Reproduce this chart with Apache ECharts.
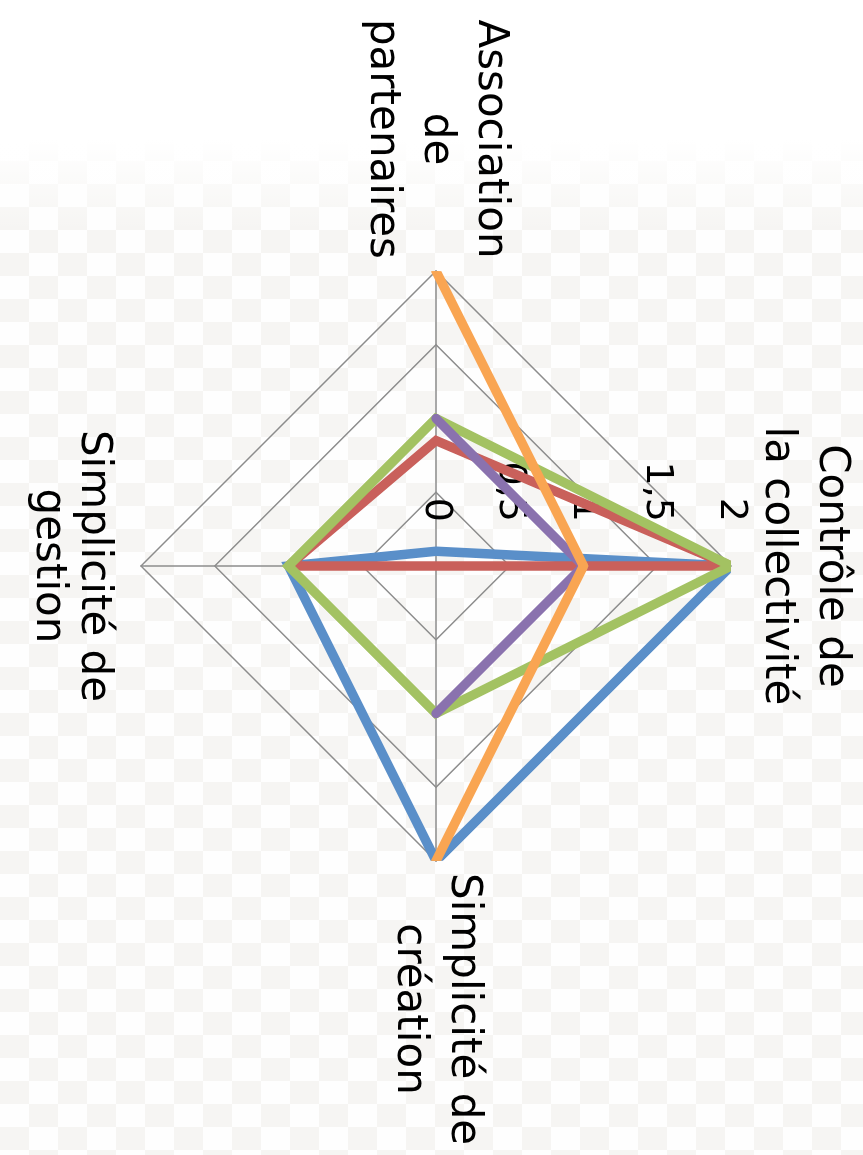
<!DOCTYPE html>
<html>
<head>
<meta charset="utf-8">
<script src="https://cdn.jsdelivr.net/npm/echarts@6/dist/echarts.min.js"></script>
<style>
  html, body {
    margin: 0;
    padding: 0;
    width: 863px;
    height: 1155px;
    overflow: hidden;
  }
  body {
    background:
      linear-gradient(to bottom, #fff 0, #fff 140px, rgba(255, 255, 255, 0) 230px),
      repeating-conic-gradient(#f6f5f3 0 25%, #fefefe 0 50%) 0 0 / 58px 46px;
  }
  /* the chart is drawn flat, then turned a quarter turn clockwise */
  #chart {
    position: absolute;
    left: 0;
    top: 0;
    width: 1155px;
    height: 863px;
    transform-origin: 0 0;
    transform: translateX(863px) rotate(90deg);
  }
</style>
</head>
<body>
<div id="chart"></div>
<script>
  // axes, counter-clockwise from the top of the unrotated chart
  const categories = [
    'Contrôle de\nla collectivité',
    'Association\nde\npartenaires',
    'Simplicité de\ngestion',
    'Simplicité de\ncréation'
  ];
  const axisMax = 2;
  const splitCount = 4;

  const seriesNames = ['Série1', 'Série2', 'Série3', 'Série4', 'Série5'];
  const serie1 = [2, 0.1, 1, 2];
  const serie2 = [2, 0.85, 1, 0];
  const serie3 = [2, 1, 1, 1];
  const serie4 = [1, 1, null, 1];
  const serie5 = [1, 2, null, 2];
  const colors = ['#5a8fc9', '#c9605b', '#a3c262', '#8a72ae', '#f9a552'];

  const chart = echarts.init(document.getElementById('chart'), null, {renderer: 'canvas'});

  const center = [566, 427];
  const radius = 295;
  const fontFamily = 'DejaVu Sans';

  // radar keeps the polygon closed even with blanks, so the lines go on a polar grid over it
  function toPolar(values) {
    const step = 360 / categories.length;
    const points = values.map(function (v, i) {
      return [v == null ? '-' : v, i * step];
    });
    points.push([points[0][0], 360]);
    return points;
  }

  const labelStyle = {
    show: true,
    color: '#000',
    fontSize: 38,
    fontFamily: fontFamily,
    margin: 44,
    formatter: function (v) {
      return String(v).replace('.', ',');
    }
  };

  const allSeries = [serie1, serie2, serie3, serie4, serie5].map(function (values, i) {
    return {
      name: seriesNames[i],
      type: 'line',
      coordinateSystem: 'polar',
      data: toPolar(values),
      symbol: 'none',
      connectNulls: false,
      silent: true,
      lineStyle: {
        color: colors[i],
        width: 9.5,
        cap: 'round',
        join: 'miter',
        miterLimit: 2.5
      },
      z: 3 + i
    };
  });

  const nameStyle = {
    align: 'center',
    color: '#000',
    fontSize: 42,
    fontFamily: fontFamily,
    lineHeight: 54
  };

  chart.setOption({
    animation: false,
    backgroundColor: 'transparent',
    radar: {
      center: center,
      radius: radius,
      startAngle: 90,
      shape: 'polygon',
      splitNumber: splitCount,
      nameGap: 12,
      indicator: categories.map(function (name, i) {
        const ind = {name: name, min: 0, max: axisMax};
        if (i === 0) {
          ind.axisLabel = labelStyle;
        }
        return ind;
      }),
      axisName: {
        color: '#000',
        fontSize: 42,
        fontFamily: fontFamily,
        lineHeight: 54,
        formatter: function (value) {
          // the bottom name sits a bit further out in the original
          const low = value === categories[2];
          return value.split('\n').map(function (line, k) {
            return (low && k === 0 ? '{g|' : '{c|') + line + '}';
          }).join('\n');
        },
        rich: {
          c: nameStyle,
          g: Object.assign({}, nameStyle, {padding: [18, 0, 0, 0]})
        }
      },
      axisLabel: {show: false},
      axisTick: {show: false},
      axisLine: {lineStyle: {color: '#8c8c8c', width: 1.5}},
      splitLine: {lineStyle: {color: '#8c8c8c', width: 1.5}},
      splitArea: {show: false}
    },
    polar: {
      center: center,
      radius: radius
    },
    angleAxis: {
      type: 'value',
      min: 0,
      max: 360,
      startAngle: 90,
      clockwise: false,
      show: false
    },
    radiusAxis: {
      min: 0,
      max: axisMax,
      show: false
    },
    series: allSeries
  });
</script>
</body>
</html>
